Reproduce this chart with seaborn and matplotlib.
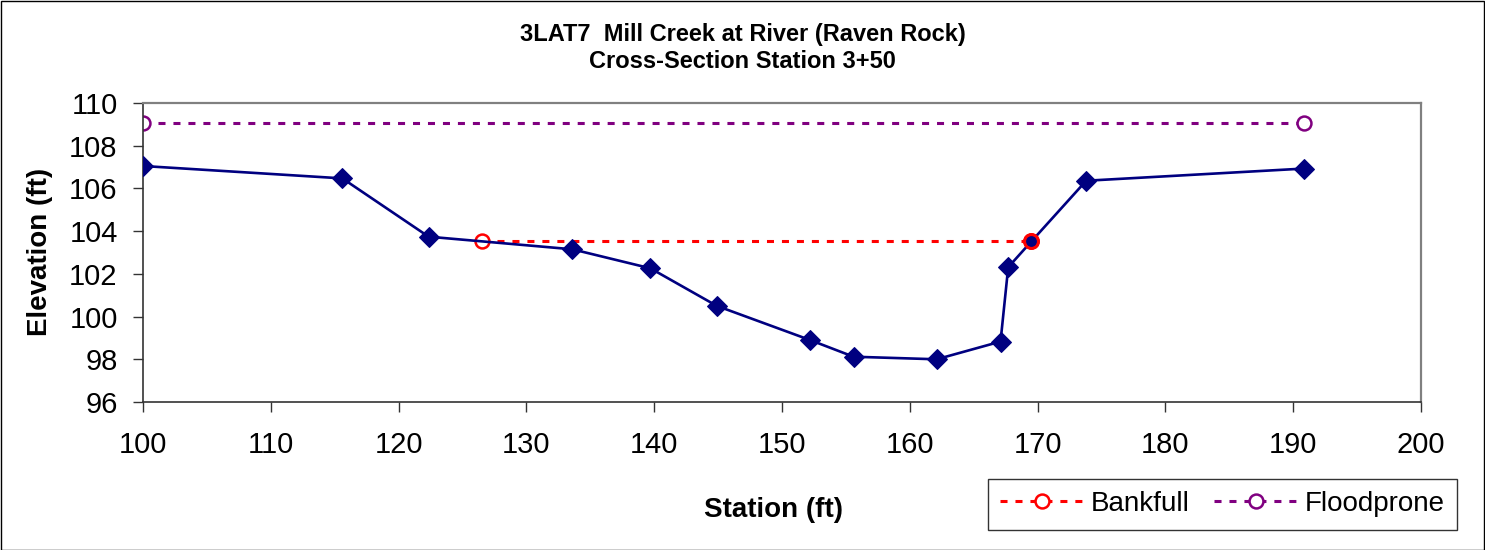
import matplotlib
matplotlib.use("Agg")
import matplotlib.pyplot as plt
import seaborn as sns
import pandas as pd
from matplotlib.patches import Rectangle

# ---- data ----
ground_station = [100.0, 115.6, 122.35, 133.6, 139.7, 144.9, 152.2, 155.6, 162.1, 167.1, 167.7, 169.5, 173.8, 190.85]
ground_elev = [107.05, 106.47, 103.74, 103.15, 102.26, 100.5, 98.9, 98.12, 98.0, 98.83, 102.31, 103.51, 106.36, 106.93]
bankfull_station = [126.5, 169.5]
bankfull_elev = [103.52, 103.52]
floodprone_station = [100.0, 190.85]
floodprone_elev = [109.05, 109.05]
title_lines = ["3LAT7  Mill Creek at River (Raven Rock)", "Cross-Section Station 3+50"]
x_ticks = [100, 110, 120, 130, 140, 150, 160, 170, 180, 190, 200]
y_ticks = [96, 98, 100, 102, 104, 106, 108, 110]

sns.set_theme(style="white")
plt.rcParams['font.family'] = ['Liberation Sans', 'DejaVu Sans']
plt.rcParams['text.color'] = 'black'
plt.rcParams['axes.labelcolor'] = 'black'
plt.rcParams['xtick.color'] = 'black'
plt.rcParams['ytick.color'] = 'black'

NAVY = "#000080"
RED = "#FF0000"
PURPLE = "#800080"

fig = plt.figure(figsize=(14.85, 5.5), dpi=100)
ax = fig.add_axes([143/1485, 1-402/550, (1421-143)/1485, (402-103)/550])

ground = pd.DataFrame({"Station": ground_station, "Elevation": ground_elev})
bank = pd.DataFrame({"Station": bankfull_station, "Elevation": bankfull_elev})
flood = pd.DataFrame({"Station": floodprone_station, "Elevation": floodprone_elev})

cross_idx = ground_station.index(bankfull_station[-1])
mark_idx = [i for i in range(len(ground_station)) if i != cross_idx]

sns.lineplot(data=ground, x="Station", y="Elevation", ax=ax, color=NAVY, lw=1.9,
             marker="D", markersize=10.5, markerfacecolor=NAVY, markeredgecolor=NAVY,
             markevery=mark_idx, estimator=None, sort=False, zorder=3)
ground_line = ax.lines[-1]

sns.lineplot(data=flood, x="Station", y="Elevation", ax=ax, color=PURPLE, lw=2.2,
             marker="o", markersize=10, markerfacecolor="white", markeredgecolor=PURPLE,
             markeredgewidth=1.8, estimator=None, sort=False, zorder=2, label="Floodprone")
flood_line = ax.lines[-1]
flood_line.set_linestyle((0, (2.3, 2.6)))

sns.lineplot(data=bank, x="Station", y="Elevation", ax=ax, color=RED, lw=2.2,
             marker="o", markersize=10, markerfacecolor="white", markeredgecolor=RED,
             markeredgewidth=1.8, estimator=None, sort=False, zorder=2, label="Bankfull")
bank_line = ax.lines[-1]
bank_line.set_linestyle((0, (2.3, 2.6)))

# ground point at the bankfull crossing (navy fill inside red ring)
ax.plot([bankfull_station[-1]], [bankfull_elev[-1]], linestyle="none", marker="o",
        markersize=10, markerfacecolor=NAVY, markeredgecolor=RED, markeredgewidth=2.2, zorder=4)

ax.set_xlim(100, 200)
ax.set_ylim(96, 110)
ax.set_xticks(x_ticks)
ax.set_yticks(y_ticks)
ax.set_xlabel("")
ax.set_ylabel("")
ax.tick_params(axis="both", which="major", labelsize=21, direction="out", length=7.2,
               width=1.0, color="#333333", labelcolor="black", left=True, bottom=True)
ax.tick_params(axis="y", pad=11)
ax.tick_params(axis="x", pad=14)

for side in ["top", "right"]:
    ax.spines[side].set_color("#808080")
    ax.spines[side].set_linewidth(1.6)
for side in ["left", "bottom"]:
    ax.spines[side].set_color("#333333")
    ax.spines[side].set_linewidth(1.2)
ax.grid(False)

if ax.get_legend() is not None:
    ax.get_legend().remove()

leg = fig.legend(handles=[bank_line, flood_line], labels=["Bankfull", "Floodprone"],
                 loc="center", bbox_to_anchor=((990+1455)/2/1485, 1-504/550),
                 ncol=2, fontsize=20, frameon=True, fancybox=False, handlelength=3.0,
                 handletextpad=0.25, columnspacing=0.9, borderpad=0.45, borderaxespad=0)
leg.get_frame().set_edgecolor("black")
leg.get_frame().set_linewidth(1.0)
for t in leg.get_texts():
    t.set_color("black")

fig.text(0.5, 1-48/550, "\n".join(title_lines), ha="center", va="center",
         fontsize=17, fontweight="bold", linespacing=1.2, color="black")
fig.text(774/1485, 1-510/550, "Station (ft)", ha="center", va="center",
         fontsize=20, fontweight="bold", color="black")
fig.text(40/1485, 1-252/550, "Elevation (ft)", ha="center", va="center",
         fontsize=20, fontweight="bold", rotation=90, color="black")

fig.patches.append(Rectangle((0.5/1485, 0.5/550), 1-1.5/1485, 1-1.5/550, transform=fig.transFigure,
                             fill=False, edgecolor="black", linewidth=1.0, zorder=10))

fig.savefig("out.png", dpi=100, facecolor="white")
